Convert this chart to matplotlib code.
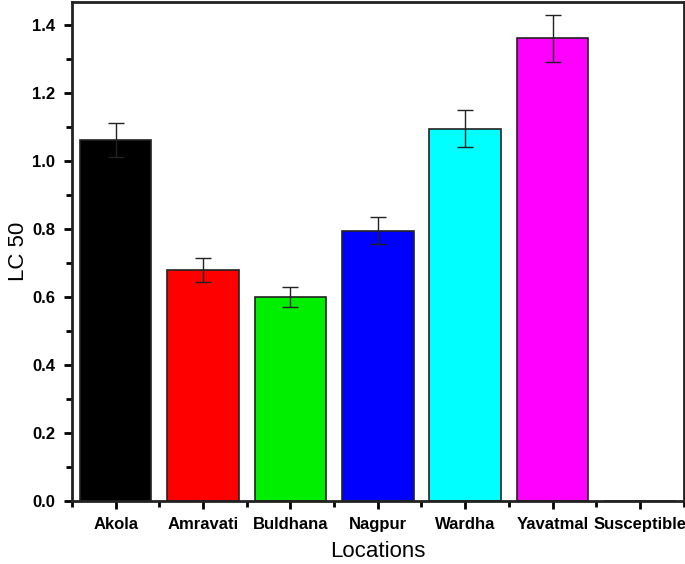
import matplotlib
matplotlib.use("Agg")
import matplotlib.pyplot as plt
from matplotlib.ticker import MultipleLocator, FixedLocator

locations = ["Akola", "Amravati", "Buldhana", "Nagpur", "Wardha", "Yavatmal", "Susceptible"]
lc50 = [1.06, 0.68, 0.60, 0.795, 1.095, 1.36, 0.0]
err = [0.05, 0.035, 0.03, 0.04, 0.055, 0.068, 0.0]
colors = ["#000000", "#ff0000", "#00ee00", "#0000ff", "#00ffff", "#ff00ff", "#ffffff"]

plt.rcParams["font.family"] = ["Liberation Sans", "DejaVu Sans"]

fig = plt.figure(figsize=(6.85, 5.64), dpi=100)
ax = fig.add_axes([0.105, 0.112, 0.893, 0.885])

x = list(range(len(locations)))
ax.bar(x, lc50, width=0.82, color=colors, edgecolor="#222222", linewidth=1.2)
ax.errorbar(x[:-1], lc50[:-1], yerr=err[:-1], fmt="none", ecolor="#222222",
            elinewidth=1, capsize=6, capthick=1)

ax.set_xlim(-0.5, 6.5)
ax.set_ylim(0, 1.468)
ax.set_xticks(x)
ax.set_xticklabels(locations, fontsize=12, fontweight="bold")
ax.xaxis.set_minor_locator(FixedLocator([i + 0.5 for i in range(-1, 7)]))
ax.yaxis.set_minor_locator(MultipleLocator(0.1))
ax.set_yticks([0, 0.2, 0.4, 0.6, 0.8, 1.0, 1.2, 1.4])
ax.set_yticklabels(["0.0", "0.2", "0.4", "0.6", "0.8", "1.0", "1.2", "1.4"],
                   fontsize=12, fontweight="bold")
ax.tick_params(which="major", direction="out", length=6, width=2, pad=6)
ax.tick_params(which="minor", direction="out", length=4, width=2)

for s in ax.spines.values():
    s.set_linewidth(2)
    s.set_color("#222222")

ax.set_xlabel("Locations", fontsize=16, labelpad=6)
ax.set_ylabel("LC 50", fontsize=16, labelpad=2)

fig.savefig("out.png", dpi=100)
